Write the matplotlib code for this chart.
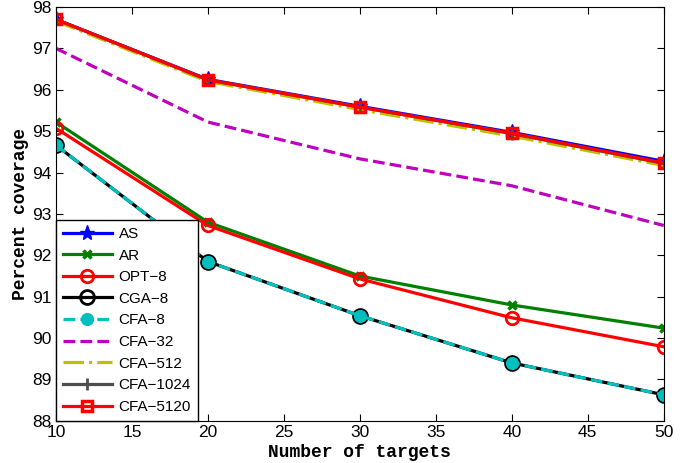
import matplotlib.pyplot as plt

targets = [10, 20, 30, 40, 50]
as_cov = [97.70, 96.25, 95.60, 94.97, 94.27]
ar_cov = [95.22, 92.80, 91.50, 90.80, 90.24]
opt8 = [95.07, 92.72, 91.43, 90.49, 89.79]
cga8 = [94.66, 91.85, 90.54, 89.40, 88.63]
cfa8 = [94.66, 91.85, 90.54, 89.40, 88.63]
cfa32 = [97.00, 95.22, 94.33, 93.68, 92.72]
cfa512 = [97.66, 96.20, 95.52, 94.88, 94.17]
cfa1024 = [97.70, 96.24, 95.58, 94.94, 94.22]
cfa5120 = [97.70, 96.24, 95.58, 94.95, 94.23]

plt.rcParams['font.family'] = ['Liberation Sans', 'DejaVu Sans']
fig = plt.figure(figsize=(6.9, 4.63), dpi=100)
ax = fig.add_axes([0.081, 0.091, 0.881, 0.894])

lw = 2.3
ax.plot(targets, as_cov, color='b', lw=lw, marker='*', ms=11, label='AS')
ax.plot(targets, ar_cov, color='g', lw=lw, marker='x', ms=6, mew=2.5, label='AR')
ax.plot(targets, opt8, color='r', lw=lw, marker='o', ms=9, mfc='none', mew=2, label='OPT\u22128')
ax.plot(targets, cga8, color='k', lw=lw, marker='o', ms=10, mfc='none', mew=2, label='CGA\u22128')
ax.plot(targets, cfa8, color='c', lw=lw, ls='--', marker='o', ms=8.5, mec='c', mfc='c', label='CFA\u22128')
ax.plot(targets, cfa32, color='m', lw=lw, ls='--', label='CFA\u221232')
ax.plot(targets, cfa512, color=(0.75, 0.75, 0), lw=lw, ls='-.', label='CFA\u2212512')
ax.plot(targets, cfa1024, color=(0.3, 0.3, 0.3), lw=lw, marker='+', ms=9, mew=2, label='CFA\u22121024')
ax.plot(targets, cfa5120, color='r', lw=lw, marker='s', ms=7, mfc='none', mew=2.5, label='CFA\u22125120')

ax.set_xlim(10, 50)
ax.set_ylim(88, 98)
ax.set_xticks(range(10, 51, 5))
ax.set_yticks(range(88, 99))
ax.tick_params(direction='in', top=True, right=True, length=5, labelsize=12.5, pad=3)
ax.set_xlabel('Number of targets', family='Liberation Mono', weight='bold', fontsize=13, labelpad=3)
ax.set_ylabel('Percent coverage', family='Liberation Mono', weight='bold', fontsize=13, labelpad=2)

leg = ax.legend(loc='lower left', borderaxespad=0, fancybox=False, framealpha=1,
                edgecolor='k', fontsize=11, handlelength=3.2, labelspacing=0.5,
                handletextpad=0.45, borderpad=0.45)
leg.get_frame().set_linewidth(1)

plt.savefig('out.png')
